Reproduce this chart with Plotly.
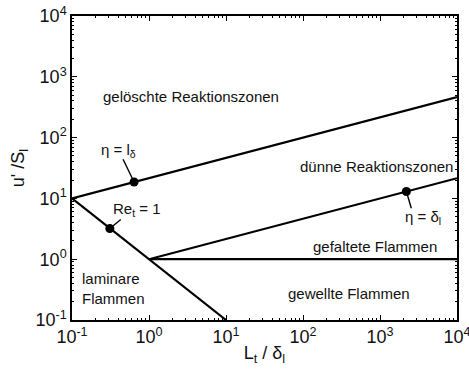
import numpy as np
import plotly.graph_objects as go

# Boundary lines (x = L_t/delta_l, y = u'/S_l)
re1_x = [0.1, 10]
re1_y = [10, 0.1]
eta_ld_x = [0.1, 1e4]
eta_ld_y = [10, 464]
eta_dl_x = [1, 1e4]
eta_dl_y = [1, 21.5]
u1_x = [1, 1e4]
u1_y = [1, 1]

# Marked points
pt_x = [0.64, 0.31, 2200]
pt_y = [18.6, 3.2, 13.0]

# Leader-line tail ends (data values)
lead_x = [0.46, 0.43, 2550]
lead_y = [44.0, 4.5, 6.9]

tick_vals = [0.1, 1, 10, 100, 1000, 10000]
tick_text = ["10<sup>-1</sup>", "10<sup>0</sup>", "10<sup>1</sup>", "10<sup>2</sup>",
             "10<sup>3</sup>", "10<sup>4</sup>"]

# Region labels: (text, log10 x, log10 y, xanchor)
labels = [
    ("gelöschte Reaktionszonen", 0.545, 2.67, "center"),
    ("dünne Reaktionszonen", 2.96, 1.53, "center"),
    ("gefaltete Flammen", 2.935, 0.217, "center"),
    ("gewellte Flammen", 2.6, -0.57, "center"),
    ("laminare<br>Flammen", -0.896, -0.49, "left"),
    ("η = l<sub>δ</sub>", -0.40, 1.78, "center"),
    ("Re<sub>t</sub> = 1", -0.156, 0.81, "center"),
    ("η = δ<sub>l</sub>", 3.56, 0.68, "center"),
]

FAM = "Liberation Sans, Arial, sans-serif"
fig = go.Figure()
line_style = dict(color="black", width=2.2)
for xs, ys in [(re1_x, re1_y), (eta_ld_x, eta_ld_y), (eta_dl_x, eta_dl_y), (u1_x, u1_y)]:
    fig.add_trace(go.Scatter(x=xs, y=ys, mode="lines", line=line_style,
                             showlegend=False, hoverinfo="skip"))
for i in range(len(pt_x)):
    fig.add_trace(go.Scatter(x=[pt_x[i], lead_x[i]], y=[pt_y[i], lead_y[i]], mode="lines",
                             line=dict(color="black", width=1.4), showlegend=False,
                             hoverinfo="skip"))
fig.add_trace(go.Scatter(x=pt_x, y=pt_y, mode="markers",
                         marker=dict(color="black", size=9), showlegend=False))

font = dict(family=FAM, size=15, color="#111111")
for t, lx, ly, xa in labels:
    fig.add_annotation(x=lx, y=ly, xref="x", yref="y", text=t, showarrow=False,
                       xanchor=xa, align="left", font=font)

axis_common = dict(type="log", range=[-1, 4], tickvals=tick_vals, ticktext=tick_text,
                   ticks="inside", ticklen=5, tickcolor="black", showline=True,
                   linecolor="black", linewidth=1.5, mirror="ticks", showgrid=False,
                   zeroline=False, automargin=False, ticklabeloverflow="allow",
                   tickfont=dict(family=FAM, size=18, color="#111111"),
                   minor=dict(ticks="inside", ticklen=2, tickcolor="black", showgrid=False,
                              dtick="D1"))
fig.update_xaxes(**axis_common,
                 title=dict(text="L<sub>t</sub> / δ<sub>l</sub>", standoff=0,
                            font=dict(family=FAM, size=18, color="#111111")))
fig.update_yaxes(**axis_common,
                 title=dict(text="u' /S<sub>l</sub>", standoff=6,
                            font=dict(family=FAM, size=18, color="#111111")))
fig.update_layout(width=469, height=372, margin=dict(l=72, r=12, t=16, b=52),
                  plot_bgcolor="white", paper_bgcolor="white")
fig.write_html("out.html")
